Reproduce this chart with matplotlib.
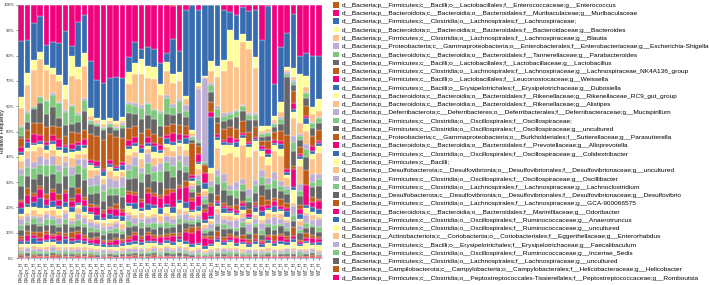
import matplotlib
matplotlib.use('Agg')
import numpy as np
import matplotlib.pyplot as plt
from matplotlib.patches import Patch

plt.rcParams['font.family'] = ['Liberation Sans', 'DejaVu Sans']

# sample groups: 18 RAGpr, 13 RAG, 17 WT
sample_labels = ["RAGpr_H"] * 18 + ["RAG_H"] * 13 + ["WT_H"] * 17

taxa = [
    "d__Bacteria;p__Firmicutes;c__Bacilli;o__Lactobacillales;f__Enterococcaceae;g__Enterococcus",
    "d__Bacteria;p__Bacteroidota;c__Bacteroidia;o__Bacteroidales;f__Muribaculaceae;g__Muribaculaceae",
    "d__Bacteria;p__Firmicutes;c__Clostridia;o__Lachnospirales;f__Lachnospiraceae;",
    "d__Bacteria;p__Bacteroidota;c__Bacteroidia;o__Bacteroidales;f__Bacteroidaceae;g__Bacteroides",
    "d__Bacteria;p__Firmicutes;c__Clostridia;o__Lachnospirales;f__Lachnospiraceae;g__Blautia",
    "d__Bacteria;p__Proteobacteria;c__Gammaproteobacteria;o__Enterobacterales;f__Enterobacteriaceae;g__Escherichia-Shigella",
    "d__Bacteria;p__Bacteroidota;c__Bacteroidia;o__Bacteroidales;f__Tannerellaceae;g__Parabacteroides",
    "d__Bacteria;p__Firmicutes;c__Bacilli;o__Lactobacillales;f__Lactobacillaceae;g__Lactobacillus",
    "d__Bacteria;p__Firmicutes;c__Clostridia;o__Lachnospirales;f__Lachnospiraceae;g__Lachnospiraceae_NK4A136_group",
    "d__Bacteria;p__Firmicutes;c__Bacilli;o__Lactobacillales;f__Leuconostocaceae;g__Weissella",
    "d__Bacteria;p__Firmicutes;c__Bacilli;o__Erysipelotrichales;f__Erysipelotrichaceae;g__Dubosiella",
    "d__Bacteria;p__Bacteroidota;c__Bacteroidia;o__Bacteroidales;f__Rikenellaceae;g__Rikenellaceae_RC9_gut_group",
    "d__Bacteria;p__Bacteroidota;c__Bacteroidia;o__Bacteroidales;f__Rikenellaceae;g__Alistipes",
    "d__Bacteria;p__Deferribacterota;c__Deferribacteres;o__Deferribacterales;f__Deferribacteraceae;g__Mucispirillum",
    "d__Bacteria;p__Firmicutes;c__Clostridia;o__Oscillospirales;f__Oscillospiraceae;",
    "d__Bacteria;p__Firmicutes;c__Clostridia;o__Oscillospirales;f__Oscillospiraceae;g__uncultured",
    "d__Bacteria;p__Proteobacteria;c__Gammaproteobacteria;o__Burkholderiales;f__Sutterellaceae;g__Parasutterella",
    "d__Bacteria;p__Bacteroidota;c__Bacteroidia;o__Bacteroidales;f__Prevotellaceae;g__Alloprevotella",
    "d__Bacteria;p__Firmicutes;c__Clostridia;o__Oscillospirales;f__Oscillospiraceae;g__Colidextribacter",
    "d__Bacteria;p__Firmicutes;c__Bacilli;",
    "d__Bacteria;p__Desulfobacterota;c__Desulfovibrionia;o__Desulfovibrionales;f__Desulfovibrionaceae;g__uncultured",
    "d__Bacteria;p__Firmicutes;c__Clostridia;o__Oscillospirales;f__Oscillospiraceae;g__Oscillibacter",
    "d__Bacteria;p__Firmicutes;c__Clostridia;o__Lachnospirales;f__Lachnospiraceae;g__Lachnoclostridium",
    "d__Bacteria;p__Desulfobacterota;c__Desulfovibrionia;o__Desulfovibrionales;f__Desulfovibrionaceae;g__Desulfovibrio",
    "d__Bacteria;p__Firmicutes;c__Clostridia;o__Lachnospirales;f__Lachnospiraceae;g__GCA-900066575",
    "d__Bacteria;p__Bacteroidota;c__Bacteroidia;o__Bacteroidales;f__Marinifilaceae;g__Odoribacter",
    "d__Bacteria;p__Firmicutes;c__Clostridia;o__Oscillospirales;f__Ruminococcaceae;g__Anaerotruncus",
    "d__Bacteria;p__Firmicutes;c__Clostridia;o__Oscillospirales;f__Ruminococcaceae;g__uncultured",
    "d__Bacteria;p__Actinobacteriota;c__Coriobacteriia;o__Coriobacteriales;f__Eggerthellaceae;g__Enterorhabdus",
    "d__Bacteria;p__Firmicutes;c__Bacilli;o__Erysipelotrichales;f__Erysipelotrichaceae;g__Faecalibaculum",
    "d__Bacteria;p__Firmicutes;c__Clostridia;o__Oscillospirales;f__Ruminococcaceae;g__Incertae_Sedis",
    "d__Bacteria;p__Firmicutes;c__Clostridia;o__Lachnospirales;f__Lachnospiraceae;g__uncultured",
    "d__Bacteria;p__Campilobacterota;c__Campylobacteria;o__Campylobacterales;f__Helicobacteraceae;g__Helicobacter",
    "d__Bacteria;p__Firmicutes;c__Clostridia;o__Peptostreptococcales-Tissierellales;f__Peptostreptococcaceae;g__Romboutsia",
]

# relative abundance (%), per sample: RAGpr(18) | RAG(13) | WT(17)
enterococcus = [0]*18 + [0, 0, 0, 0, 0, 0, 0.5, 0, 0, 0, 0, 0, 0] + [0]*17
muribaculaceae = [13, 11.5, 6.5, 3.5, 14, 12.5, 13, 9, 14.5, 6, 3.5, 21.5, 30.5, 32, 31, 30, 29.5, 17.5,
                  13, 15.5, 15, 15, 22, 16, 11, 15.5, 1.5, 0, 2, 0, 0,
                  0, 2, 2.5, 4, 1, 2.5, 2, 14.5, 0.5, 30, 17, 10, 3, 22, 19, 20, 20]
lachnospiraceae = [20, 10.5, 13, 12, 7, 8.5, 11, 19, 3.5, 15.5, 13, 18.5, 15.5, 15.5, 17, 18.5, 16, 5,
                   7, 3.5, 7, 6, 8, 3, 12, 7, 28.5, 43, 28, 27, 22,
                   22, 19, 7, 10, 11, 12, 19.5, 36, 45, 12, 22, 12, 18, 8, 9, 20, 17]
bacteroides = [4, 4, 3.5, 2.5, 1.5, 2, 2, 5, 7, 4, 4.5, 3, 1, 1.5, 1, 1.5, 1.5, 4,
               4, 5, 4, 4, 4, 3, 3, 3, 1, 1, 1, 0.5, 4,
               4, 4, 12, 10.5, 3.5, 3, 4.5, 2, 1, 1.5, 4, 1, 3, 21, 4, 3, 5]
blautia = [6.5, 8.5, 13, 12, 10.5, 6.5, 7, 4, 10, 12, 11, 1.5, 1, 1, 1, 1, 1, 6,
           10, 11, 9, 10, 6, 8, 7, 6, 2, 1, 1, 0.5, 5,
           10.5, 16, 19.5, 17, 26, 26, 18.5, 1, 1, 1, 2, 1, 1, 5, 2, 3, 2]
escherichia = [0.5, 0.5, 0.5, 0.5, 0.5, 0.5, 0.5, 0.5, 0.5, 0.5, 0.5, 0.5, 0.5, 0.5, 0.5, 0.5, 1, 0.5,
               1, 1, 0.5, 0.5, 1, 1, 1, 0.5, 2, 0.5, 20, 32, 0.5,
               1, 1, 0.5, 0.5, 0.5, 0.5, 0.5, 0.5, 0.5, 0.5, 0.5, 0.5, 0.5, 0.5, 0.5, 0.5, 0.5]
parabacteroides = [3, 3, 0.5, 2, 4.5, 4, 5, 4.5, 6, 2.5, 4, 1, 1, 1, 1, 1, 1, 3,
                   3, 4, 4, 3, 5, 5, 3, 4, 2, 1, 1, 0.5, 3,
                   3, 2, 2, 2, 2, 2, 2, 1, 1, 1, 2, 1, 1, 2, 2, 2, 2]
lactobacillus = [1, 2.5, 5, 6.5, 4.5, 6.5, 3, 4, 3, 4, 6.5, 4, 4, 4, 3, 3, 4, 5,
                 4, 5, 5, 5, 4, 4, 3, 4, 3, 1, 1, 0.5, 4,
                 2, 3, 3, 5, 4, 5, 3, 2, 2, 2, 3, 21, 2, 3, 3, 3, 3]
nk4a136 = [3, 3, 4, 4, 5, 3, 4, 3, 4, 3, 3, 10, 10, 12, 11, 12, 10, 4,
           4, 4, 3, 3, 3, 3, 3, 3, 3, 11, 3, 3, 4,
           4, 4, 4, 4, 5, 4, 4, 2, 3, 3, 4, 12, 4, 3, 4, 4, 4]
weissella = [2, 1, 3, 2, 1, 2, 3, 1, 2, 1, 2, 1, 2, 1, 2, 1, 1, 2,
             2, 1, 2, 1, 2, 1, 3, 2, 1, 1, 3, 4, 2,
             1, 1, 2, 1, 1, 1, 1, 1, 2, 1, 1, 1, 2, 1, 1, 2, 1]
dubosiella = [1, 2, 1, 1, 2, 1, 1, 2, 1, 2, 1, 1, 1, 2, 1, 1, 2, 1,
              1, 2, 1, 2, 1, 2, 1, 1, 2, 1, 1, 2, 20,
              1, 1, 1, 2, 1, 1, 1, 1, 1, 1, 2, 1, 1, 1, 2, 1, 1]
rc9 = [2, 1, 2, 1, 1, 2, 2, 1, 2, 1, 2, 2, 1, 1, 2, 2, 1, 2,
       2, 2, 1, 2, 2, 1, 2, 1, 2, 1, 2, 1, 2,
       3, 4, 3, 4, 3, 4, 4, 2, 3, 2, 3, 1, 2, 3, 3, 2, 3]
alistipes = [3, 2, 4, 3, 2, 2, 3, 2, 3, 2, 2, 3, 2, 2, 3, 2, 2, 3,
             2, 3, 2, 3, 2, 3, 2, 3, 2, 1, 2, 2, 3,
             8, 7, 12, 10, 14, 13, 12, 6, 5, 8, 10, 3, 6, 8, 5, 6, 8]
mucispirillum = [2, 3, 2, 3, 2, 3, 2, 2, 3, 2, 3, 3, 4, 3, 4, 3, 4, 2,
                 3, 2, 3, 2, 3, 2, 3, 2, 3, 1, 2, 1, 2,
                 2, 3, 2, 3, 2, 3, 2, 3, 2, 3, 2, 1, 2, 3, 2, 3, 2]
oscillospiraceae = [4, 3, 4, 3, 4, 3, 4, 3, 4, 3, 4, 3, 3, 4, 3, 3, 4, 3,
                    4, 3, 4, 3, 4, 3, 4, 3, 2, 1, 2, 2, 3,
                    3, 3, 2, 3, 3, 2, 3, 3, 2, 3, 2, 2, 3, 2, 3, 2, 3]
osc_uncultured = [5, 4, 5, 4, 6, 5, 4, 5, 4, 5, 6, 4, 5, 4, 5, 4, 5, 4,
                  5, 6, 5, 4, 5, 6, 4, 5, 3, 2, 3, 2, 4,
                  4, 5, 4, 3, 4, 3, 4, 5, 4, 4, 3, 3, 5, 4, 5, 4, 5]
parasutterella = [1, 2, 1, 1, 2, 1, 2, 1, 1, 2, 1, 1, 1, 1, 1, 2, 1, 1,
                  1, 1, 2, 1, 1, 2, 1, 1, 2, 1, 1, 1, 1,
                  2, 1, 1, 2, 1, 2, 1, 4, 2, 1, 3, 2, 1, 2, 6, 2, 1]
alloprevotella = [2, 3, 2, 3, 2, 3, 2, 3, 2, 3, 2, 2, 3, 2, 2, 3, 2, 3,
                  3, 2, 4, 3, 4, 3, 5, 4, 5, 3, 4, 3, 4,
                  1, 1, 1, 1, 1, 1, 1, 2, 1, 2, 1, 1, 6, 2, 8, 2, 3]
colidextribacter = [2, 1, 2, 3, 1, 2, 1, 2, 2, 1, 2, 1, 2, 1, 2, 1, 2, 1,
                    2, 1, 2, 1, 2, 1, 2, 1, 2, 1, 2, 1, 1,
                    1, 2, 1, 1, 2, 1, 2, 2, 1, 2, 1, 2, 1, 2, 1, 2, 2]
bacilli = [1, 2, 1, 2, 1, 1, 2, 1, 2, 1, 1, 2, 1, 1, 2, 1, 1, 2,
           2, 1, 2, 2, 1, 2, 1, 2, 1, 1, 1, 1, 1,
           1, 1, 1, 1, 1, 1, 1, 2, 1, 1, 1, 1, 4, 1, 2, 1, 1]
desulfo_uncultured = [1, 1, 2, 1, 1, 2, 1, 1, 1, 2, 1, 1, 1, 2, 1, 1, 2, 1,
                      1, 2, 1, 1, 2, 1, 1, 2, 1, 1, 1, 1, 1,
                      2, 1, 2, 1, 2, 1, 2, 1, 2, 1, 2, 1, 1, 2, 1, 2, 1]
oscillibacter = [2, 2, 1, 2, 2, 1, 2, 2, 1, 2, 2, 2, 2, 1, 2, 2, 1, 2,
                 2, 1, 2, 2, 1, 2, 2, 1, 2, 1, 1, 1, 2,
                 3, 2, 2, 3, 2, 3, 2, 3, 2, 3, 2, 2, 3, 2, 3, 2, 3]
lachnoclostridium = [2, 1, 2, 1, 2, 2, 1, 2, 1, 2, 1, 2, 1, 2, 1, 2, 1, 2,
                     1, 2, 1, 2, 1, 2, 1, 2, 1, 1, 1, 1, 1,
                     1, 2, 1, 1, 2, 1, 1, 2, 1, 2, 1, 1, 2, 1, 2, 1, 2]
desulfovibrio = [2, 2, 3, 2, 2, 3, 2, 3, 2, 2, 3, 2, 2, 2, 3, 2, 2, 3,
                 2, 3, 2, 2, 3, 2, 2, 3, 2, 1, 2, 1, 2,
                 2, 3, 2, 2, 3, 2, 3, 2, 3, 2, 3, 2, 2, 3, 2, 3, 2]
gca = [1, 1, 1, 2, 1, 1, 1, 1, 2, 1, 1, 1, 1, 1, 1, 1, 1, 1,
       1, 1, 1, 1, 1, 1, 1, 1, 1, 2, 1, 1, 1,
       2, 1, 1, 1, 2, 1, 2, 1, 1, 2, 1, 1, 3, 1, 2, 1, 1]
odoribacter = [1, 2, 1, 1, 2, 1, 2, 1, 1, 2, 1, 1, 2, 1, 1, 2, 1, 1,
               2, 1, 2, 1, 2, 1, 2, 1, 3, 4, 5, 3, 2,
               1, 1, 1, 2, 1, 1, 1, 1, 1, 1, 2, 1, 1, 1, 1, 2, 1]
anaerotruncus = [1, 1, 2, 1, 1, 1, 1, 2, 1, 1, 1, 1, 1, 1, 1, 1, 1, 1,
                 1, 1, 1, 1, 1, 1, 1, 1, 1, 1, 1, 1, 1,
                 1, 1, 1, 1, 1, 1, 1, 1, 1, 1, 1, 1, 1, 1, 1, 1, 1]
rumino_uncultured = [1, 1, 1, 1, 1.5, 1, 1, 1, 1, 1.5, 1, 1, 1, 1, 1, 1, 1, 1,
                     1, 1, 1.5, 1, 1, 1, 1, 1.5, 1, 1, 1, 1, 1,
                     2, 1, 2, 1, 2, 1, 2, 1, 2, 1, 2, 1, 2, 1, 2, 1, 2]
enterorhabdus = [1, 0.5, 1, 0.8, 1, 0.6, 1, 0.5, 1.2, 0.5, 1, 0.7, 1, 0.5, 0.9, 0.5, 1, 0.6,
                 1, 0.5, 1.1, 0.6, 1, 0.5, 0.8, 0.6, 1, 0.5, 0.9, 0.5, 1,
                 1, 0.6, 1, 0.5, 1.2, 0.5, 1, 0.6, 1, 0.5, 0.8, 0.5, 1, 0.6, 1, 0.5, 1]
faecalibaculum = [0.8, 1, 0.6, 1, 0.7, 1.2, 0.5, 1, 0.8, 1, 0.6, 1, 0.8, 1, 0.6, 1, 0.7, 1,
                  0.8, 1, 0.6, 1, 0.9, 1, 0.7, 1, 0.6, 0.8, 1, 0.6, 0.8,
                  0.6, 1, 0.8, 1, 0.5, 1, 0.7, 1, 0.6, 1, 0.8, 1, 0.6, 1, 0.7, 1, 0.6]
incertae_sedis = [0.7, 0.6, 0.9, 0.5, 0.8, 0.6, 0.7, 0.9, 0.5, 0.7, 0.8, 0.6, 0.5, 0.7, 0.6, 0.8, 0.5, 0.7,
                  0.6, 0.8, 0.5, 0.7, 0.6, 0.9, 0.5, 0.7, 0.6, 0.5, 0.7, 0.5, 0.6,
                  0.8, 0.6, 0.9, 0.7, 0.6, 0.8, 0.5, 0.7, 0.6, 0.8, 0.5, 0.7, 0.6, 0.9, 0.5, 0.7, 0.6]
lachno_uncultured = [0.6, 0.8, 0.5, 0.7, 0.6, 0.9, 0.5, 0.6, 0.8, 0.5, 0.7, 0.6, 0.8, 0.5, 0.7, 0.6, 0.8, 0.5,
                     0.7, 0.5, 0.8, 0.6, 0.5, 0.7, 0.6, 0.8, 0.5, 0.4, 0.6, 0.4, 0.5,
                     0.6, 0.8, 0.5, 0.7, 0.6, 0.5, 0.8, 0.6, 0.7, 0.5, 0.6, 0.8, 0.5, 0.7, 0.6, 0.8, 0.5]
helicobacter = [0.5, 0.4, 0.6, 0.3, 0.5, 0.4, 0.6, 0.5, 0.3, 0.5, 0.4, 0.6, 0.3, 0.5, 0.4, 0.3, 0.5, 0.4,
                0.5, 0.3, 0.4, 0.6, 0.3, 0.5, 0.4, 0.3, 0.5, 0.3, 0.4, 0.3, 0.4,
                0.4, 0.5, 0.3, 0.6, 0.4, 0.5, 0.3, 0.4, 0.6, 0.3, 0.5, 0.4, 0.3, 0.5, 0.4, 0.6, 0.3]
romboutsia = [0.4, 0.3, 0.5, 0.4, 0.3, 0.5, 0.4, 0.3, 0.4, 0.5, 0.3, 0.4, 0.3, 0.4, 0.5, 0.3, 0.4, 0.3,
              0.4, 0.5, 0.3, 0.4, 0.5, 0.3, 0.4, 0.5, 0.3, 0.2, 0.3, 0.2, 0.3,
              0.3, 0.4, 0.5, 0.3, 0.4, 0.3, 0.5, 0.4, 0.3, 0.4, 0.5, 0.3, 0.4, 0.3, 0.5, 0.4, 0.3]

values = [enterococcus, muribaculaceae, lachnospiraceae, bacteroides, blautia, escherichia,
          parabacteroides, lactobacillus, nk4a136, weissella, dubosiella, rc9, alistipes,
          mucispirillum, oscillospiraceae, osc_uncultured, parasutterella, alloprevotella,
          colidextribacter, bacilli, desulfo_uncultured, oscillibacter, lachnoclostridium,
          desulfovibrio, gca, odoribacter, anaerotruncus, rumino_uncultured, enterorhabdus,
          faecalibaculum, incertae_sedis, lachno_uncultured, helicobacter, romboutsia]

palette = ["#bf5b17", "#f0027f", "#386cb0", "#ffff99", "#fdc086", "#beaed4", "#7fc97f", "#666666"]
colors = [palette[i % len(palette)] for i in range(len(taxa))]

data = np.array(values, dtype=float)
data = data / data.sum(axis=0) * 100  # relative frequency per sample

fig = plt.figure(figsize=(7.09, 2.85), dpi=100)
ax = fig.add_axes([18 / 709, 27 / 285, 304 / 709, 253 / 285])

x = np.arange(len(sample_labels))
bottom = np.zeros(len(sample_labels))
# legend order is top of the stack, so draw from the last taxon upward
for i in range(len(taxa) - 1, -1, -1):
    ax.bar(x, data[i], bottom=bottom, width=0.9, color=colors[i],
           edgecolor='white', linewidth=0.2)
    bottom += data[i]

ax.set_xlim(-0.5, len(sample_labels) - 0.5)
ax.set_ylim(0, 100)
ax.set_yticks(np.arange(0, 101, 10))
ax.set_yticklabels([f"{v}%" for v in range(0, 101, 10)], fontsize=3.2)
ax.set_xticks(x)
ax.set_xticklabels(sample_labels, rotation=90, fontsize=3.3)
ax.set_ylabel("Relative Frequency", fontsize=3.6)
ax.yaxis.set_label_coords(-0.042, 0.5)
ax.tick_params(axis='both', length=1.5, width=0.4, pad=1, colors='#333333')
for s in ['top', 'right']:
    ax.spines[s].set_visible(False)
for s in ['left', 'bottom']:
    ax.spines[s].set_linewidth(0.4)
    ax.spines[s].set_color('#888888')

handles = [Patch(facecolor=c, edgecolor='none') for c in colors]
fig.legend(handles, taxa, loc='upper left', bbox_to_anchor=(331 / 709, 1.0),
           frameon=False, fontsize=4.65, handlelength=0.95, handleheight=0.95,
           handletextpad=0.45, labelspacing=0.35, borderaxespad=0.2, borderpad=0.1)

fig.savefig("out.png", dpi=100)
